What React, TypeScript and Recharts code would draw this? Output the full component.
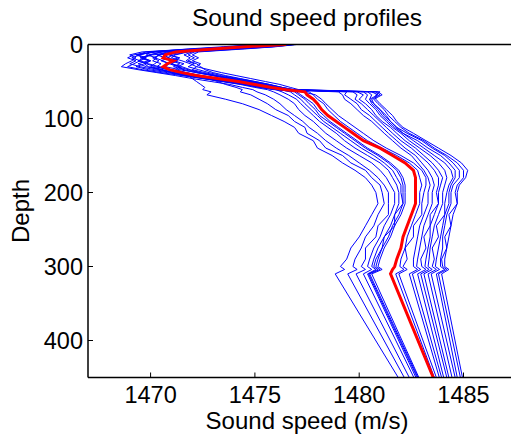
import { Line, LineChart, XAxis, YAxis } from "recharts";

const FONT = '"Liberation Sans", Arial, Helvetica, sans-serif';

const depths = [
  0, 3, 6, 10, 14, 18, 22, 26, 30, 34, 38, 42, 46, 50, 54, 58, 61, 64, 68, 74, 80, 88, 96, 104, 112, 120, 130,
  140, 150, 160, 170, 180, 190, 200, 215, 230, 245, 260, 275, 290, 300, 304, 310, 450,
];

const speedTicks = [1470, 1475, 1480, 1485];
const depthTicks = [0, 100, 200, 300, 400];

// mean profile (red)
const meanSpeed = [
  1476.5, 1474.5, 1473.0, 1471.2, 1470.7, 1470.6, 1471.1, 1470.8, 1470.6, 1470.9, 1471.5, 1472.2, 1473.2, 1474.2,
  1475.0, 1475.8, 1476.5, 1477.4, 1477.5, 1477.8, 1478.0, 1478.2, 1478.5, 1478.9, 1479.3, 1479.7, 1480.2, 1481.0,
  1481.6, 1482.2, 1482.6, 1482.7, 1482.7, 1482.7, 1482.7, 1482.5, 1482.3, 1482.1, 1482.0, 1481.8, 1481.7, 1481.6,
  1481.5, 1483.55,
];

// individual casts (blue), ordered by speed at the bottom
const cast01 = [
  1475.2, 1473.8, 1472.6, 1471.0, 1470.4, 1470.2, 1470.6, 1470.9, 1471.3, 1471.6, 1471.5, 1471.8, 1472.0, 1472.2,
  1472.4, 1472.6, 1472.5, 1472.9, 1472.7, 1473.6, 1474.4, 1475.2, 1475.8, 1476.4, 1476.9, 1477.1, 1477.8, 1478.0,
  1478.7, 1479.2, 1479.8, 1480.3, 1480.6, 1480.8, 1480.9, 1480.6, 1480.3, 1480.0, 1479.6, 1479.4, 1479.1, 1479.3,
  1478.85, 1481.87,
];
const cast02 = [
  1476.0, 1474.9, 1473.2, 1470.2, 1469.4, 1469.8, 1469.5, 1469.9, 1470.4, 1471.0, 1471.7, 1472.3, 1472.8, 1473.2,
  1473.6, 1474.1, 1474.4, 1474.3, 1474.8, 1475.2, 1475.6, 1476.0, 1476.6, 1476.9, 1477.4, 1477.5, 1478.1, 1478.4,
  1479.2, 1479.6, 1480.3, 1480.6, 1481.0, 1481.1, 1481.2, 1480.9, 1480.7, 1480.3, 1480.1, 1479.8, 1479.7, 1479.9,
  1479.45, 1482.16,
];
const cast03 = [
  1475.6, 1474.0, 1472.0, 1469.6, 1469.0, 1469.3, 1469.1, 1468.8, 1468.6, 1469.4, 1470.3, 1471.2, 1472.0, 1472.9,
  1473.8, 1474.4, 1474.9, 1475.1, 1475.5, 1475.9, 1476.2, 1476.5, 1476.9, 1477.3, 1477.6, 1478.0, 1478.4, 1478.9,
  1479.5, 1480.0, 1480.5, 1480.9, 1481.2, 1481.4, 1481.4, 1481.4, 1480.9, 1480.8, 1480.3, 1480.3, 1480.1, 1480.3,
  1479.85, 1482.4,
];
const cast04 = [
  1476.8, 1475.5, 1473.6, 1471.4, 1470.1, 1469.6, 1470.0, 1469.7, 1469.9, 1470.5, 1471.0, 1471.6, 1472.5, 1473.4,
  1474.3, 1475.0, 1475.6, 1475.9, 1476.2, 1476.6, 1476.9, 1477.1, 1477.4, 1477.8, 1478.1, 1478.4, 1478.9, 1479.4,
  1480.0, 1480.6, 1481.0, 1481.3, 1481.5, 1481.7, 1481.7, 1481.5, 1481.2, 1481.0, 1480.7, 1480.5, 1480.4, 1480.6,
  1480.2, 1482.62,
];
const cast05 = [
  1475.0, 1473.5, 1471.8, 1470.0, 1469.8, 1470.3, 1470.1, 1470.5, 1470.3, 1470.8, 1471.4, 1472.0, 1472.8, 1473.7,
  1474.6, 1475.4, 1476.0, 1476.3, 1476.6, 1477.0, 1477.2, 1477.5, 1477.8, 1478.1, 1478.5, 1478.9, 1479.3, 1479.8,
  1480.4, 1481.0, 1481.4, 1481.6, 1481.8, 1481.9, 1481.9, 1481.7, 1481.5, 1481.2, 1480.9, 1480.7, 1480.6, 1480.8,
  1480.4, 1482.72,
];
const cast06 = [
  1476.3, 1475.2, 1473.0, 1470.8, 1470.3, 1470.7, 1471.2, 1471.0, 1471.4, 1471.2, 1471.7, 1472.4, 1473.0, 1473.9,
  1474.8, 1475.6, 1476.2, 1476.7, 1476.9, 1477.2, 1477.4, 1477.7, 1478.0, 1478.3, 1478.7, 1479.1, 1479.6, 1480.1,
  1480.7, 1481.2, 1481.6, 1481.8, 1482.0, 1482.0, 1482.1, 1481.7, 1481.7, 1481.2, 1481.1, 1480.8, 1480.7, 1480.9,
  1480.45, 1482.78,
];
const cast07 = [
  1475.8, 1474.4, 1472.9, 1471.2, 1470.9, 1471.4, 1471.1, 1471.6, 1471.3, 1471.8, 1472.3, 1473.0, 1473.6, 1474.4,
  1475.1, 1475.7, 1476.1, 1476.9, 1477.1, 1477.4, 1477.6, 1477.9, 1478.1, 1478.5, 1478.9, 1479.3, 1479.8, 1480.3,
  1480.9, 1481.4, 1481.8, 1482.0, 1482.1, 1482.1, 1482.1, 1481.9, 1481.6, 1481.4, 1481.1, 1480.9, 1480.8, 1481.0,
  1480.5, 1482.82,
];
const cast08 = [
  1476.6, 1475.0, 1473.4, 1471.8, 1471.2, 1471.0, 1471.5, 1471.9, 1472.2, 1472.0, 1472.6, 1473.2, 1474.0, 1474.8,
  1475.5, 1476.1, 1476.5, 1477.0, 1477.2, 1477.5, 1477.8, 1478.0, 1478.3, 1478.6, 1479.0, 1479.4, 1479.9, 1480.4,
  1481.0, 1481.5, 1481.9, 1482.1, 1482.2, 1482.2, 1482.2, 1482.0, 1481.7, 1481.5, 1481.2, 1481.0, 1480.9, 1481.1,
  1480.6, 1482.86,
];
const cast09 = [
  1476.9, 1475.8, 1474.0, 1472.0, 1471.6, 1471.9, 1471.7, 1472.1, 1471.8, 1472.3, 1472.8, 1473.4, 1474.2, 1475.0,
  1475.7, 1476.3, 1476.8, 1477.6, 1477.8, 1478.0, 1478.3, 1478.5, 1478.8, 1479.1, 1479.5, 1479.9, 1480.4, 1481.1,
  1481.8, 1482.4, 1482.8, 1482.9, 1483.0, 1482.9, 1482.9, 1482.7, 1482.5, 1482.3, 1482.2, 1482.0, 1481.95, 1482.15,
  1481.75, 1483.6,
];
const cast10 = [
  1475.4, 1474.2, 1472.4, 1470.5, 1470.0, 1469.5, 1469.9, 1469.4, 1469.8, 1470.4, 1471.2, 1472.2, 1473.1, 1474.0,
  1474.9, 1475.6, 1476.2, 1477.3, 1477.9, 1478.2, 1478.4, 1478.7, 1479.0, 1479.4, 1479.8, 1480.2, 1480.7, 1481.3,
  1482.0, 1482.6, 1483.0, 1483.2, 1483.2, 1483.1, 1483.0, 1483.0, 1482.6, 1482.6, 1482.2, 1482.3, 1482.1, 1482.3,
  1481.9, 1483.7,
];
const cast11 = [
  1476.2, 1475.1, 1473.3, 1471.0, 1470.5, 1470.1, 1470.4, 1470.2, 1470.0, 1470.6, 1471.1, 1471.9, 1472.7, 1473.6,
  1474.5, 1475.3, 1476.0, 1479.0, 1479.2, 1479.3, 1479.6, 1479.9, 1480.2, 1480.6, 1480.9, 1481.2, 1481.6, 1482.0,
  1482.5, 1482.8, 1483.1, 1483.3, 1483.4, 1483.3, 1483.3, 1483.1, 1482.9, 1482.8, 1482.7, 1482.6, 1482.6, 1482.8,
  1482.4, 1483.84,
];
const cast12 = [
  1475.9, 1474.6, 1472.7, 1470.3, 1469.2, 1468.9, 1469.3, 1469.0, 1469.5, 1470.2, 1471.0, 1471.8, 1472.6, 1473.5,
  1474.6, 1475.4, 1476.1, 1479.4, 1479.3, 1479.6, 1479.9, 1480.1, 1480.5, 1480.8, 1481.1, 1481.4, 1481.8, 1482.2,
  1482.7, 1483.0, 1483.3, 1483.5, 1483.6, 1483.5, 1483.5, 1483.3, 1483.1, 1483.0, 1482.9, 1482.8, 1482.75, 1482.95,
  1482.55, 1483.95,
];
const cast13 = [
  1476.7, 1475.4, 1473.9, 1471.7, 1471.1, 1470.8, 1471.3, 1471.0, 1471.5, 1471.9, 1472.4, 1473.1, 1473.9, 1474.7,
  1475.4, 1476.0, 1476.4, 1479.7, 1479.9, 1479.8, 1480.1, 1480.4, 1480.7, 1481.0, 1481.3, 1481.6, 1482.0, 1482.5,
  1482.9, 1483.3, 1483.6, 1483.8, 1483.8, 1483.7, 1483.8, 1483.4, 1483.4, 1483.1, 1483.2, 1482.95, 1483.0, 1483.2,
  1482.8, 1484.05,
];
const cast14 = [
  1475.3, 1474.0, 1472.2, 1469.8, 1469.3, 1469.7, 1469.4, 1469.8, 1470.2, 1470.9, 1471.6, 1472.4, 1473.3, 1474.1,
  1474.9, 1475.6, 1476.3, 1479.9, 1480.2, 1480.0, 1480.3, 1480.6, 1480.8, 1481.1, 1481.5, 1481.8, 1482.2, 1482.7,
  1483.1, 1483.5, 1483.8, 1484.0, 1483.9, 1483.8, 1483.8, 1483.6, 1483.4, 1483.4, 1483.3, 1483.2, 1483.15, 1483.35,
  1482.95, 1484.2,
];
const cast15 = [
  1476.4, 1475.3, 1473.6, 1471.3, 1470.6, 1470.9, 1470.5, 1470.9, 1470.7, 1471.4, 1472.2, 1473.0, 1473.8, 1474.6,
  1475.3, 1475.9, 1476.5, 1480.2, 1480.4, 1480.3, 1480.5, 1480.8, 1481.0, 1481.3, 1481.6, 1482.0, 1482.4, 1482.9,
  1483.4, 1483.8, 1484.1, 1484.2, 1484.1, 1484.0, 1484.0, 1483.8, 1483.6, 1483.5, 1483.4, 1483.35, 1483.3, 1483.5,
  1483.1, 1484.3,
];
const cast16 = [
  1476.0, 1474.8, 1473.0, 1470.6, 1469.9, 1469.6, 1470.0, 1469.7, 1469.3, 1469.9, 1470.8, 1471.7, 1472.6, 1473.6,
  1474.5, 1475.3, 1476.0, 1480.4, 1480.6, 1480.5, 1480.7, 1481.0, 1481.2, 1481.5, 1481.8, 1482.1, 1482.6, 1483.1,
  1483.6, 1484.1, 1484.4, 1484.5, 1484.3, 1484.2, 1484.1, 1484.1, 1483.7, 1483.8, 1483.5, 1483.6, 1483.5, 1483.7,
  1483.3, 1484.45,
];
const cast17 = [
  1476.9, 1475.9, 1474.3, 1472.1, 1471.8, 1472.1, 1471.8, 1472.2, 1472.4, 1472.6, 1473.0, 1473.6, 1474.3, 1475.0,
  1475.7, 1476.3, 1476.8, 1480.6, 1480.9, 1480.5, 1480.6, 1480.9, 1481.1, 1481.4, 1481.7, 1482.1, 1482.8, 1483.3,
  1483.9, 1484.3, 1484.6, 1484.6, 1484.4, 1484.3, 1484.3, 1484.1, 1484.0, 1483.9, 1483.8, 1483.7, 1483.65, 1483.85,
  1483.45, 1484.6,
];
const cast18 = [
  1475.6, 1474.3, 1472.5, 1470.0, 1469.5, 1469.1, 1469.5, 1469.2, 1468.9, 1469.6, 1470.5, 1471.5, 1472.5, 1473.5,
  1474.4, 1475.2, 1475.9, 1480.8, 1481.0, 1480.6, 1480.7, 1481.0, 1481.3, 1481.5, 1481.8, 1482.3, 1483.0, 1483.5,
  1484.1, 1484.5, 1484.8, 1484.8, 1484.5, 1484.4, 1484.4, 1484.2, 1484.1, 1484.0, 1484.0, 1483.9, 1483.9, 1484.1,
  1483.7, 1484.7,
];
const cast19 = [
  1476.5, 1475.5, 1473.8, 1471.5, 1470.9, 1471.3, 1471.0, 1471.4, 1471.1, 1471.6, 1472.2, 1473.0, 1473.9, 1474.8,
  1475.6, 1476.3, 1476.9, 1480.9, 1481.1, 1480.7, 1480.9, 1481.2, 1481.4, 1481.7, 1482.0, 1482.4, 1483.1, 1483.6,
  1484.2, 1484.7, 1485.0, 1485.0, 1484.7, 1484.6, 1484.7, 1484.3, 1484.4, 1484.1, 1484.2, 1483.95, 1484.0, 1484.2,
  1483.8, 1484.85,
];
const cast20 = [
  1477.0, 1476.0, 1474.5, 1472.3, 1472.0, 1472.3, 1472.0, 1472.4, 1472.2, 1472.8, 1473.4, 1474.1, 1474.8, 1475.5,
  1476.2, 1476.7, 1477.1, 1481.0, 1480.8, 1480.8, 1481.0, 1481.3, 1481.6, 1481.8, 1482.1, 1482.6, 1483.2, 1483.8,
  1484.4, 1484.9, 1485.2, 1485.1, 1484.8, 1484.7, 1484.7, 1484.5, 1484.4, 1484.3, 1484.2, 1484.1, 1484.1, 1484.3,
  1483.95, 1484.95,
];

const casts = [
  cast01, cast02, cast03, cast04, cast05, cast06, cast07, cast08, cast09, cast10,
  cast11, cast12, cast13, cast14, cast15, cast16, cast17, cast18, cast19, cast20,
];

const rows = depths.map((depth, i) => {
  const row: Record<string, number> = { depth, mean: meanSpeed[i] };
  casts.forEach((cast, k) => {
    row[`c${k}`] = cast[i];
  });
  return row;
});

// the axes box runs off the right edge of the figure, so the visible range stops short of 1488
const speedDomain = [1467, 1487.66];

function DepthLabel() {
  return (
    <text
      x={21}
      y={203}
      transform="rotate(-90 21 203)"
      textAnchor="middle"
      fontSize={24}
      fontFamily={FONT}
      fill="#000"
    >
      Depth
    </text>
  );
}

function SpeedLabel() {
  return (
    <text x={299} y={421} textAnchor="middle" fontSize={24} fontFamily={FONT} fill="#000">
      Sound speed (m/s)
    </text>
  );
}

const tickStyle = { fill: "#000", fontSize: 23.5, fontFamily: FONT };
const axisLine = { stroke: "#000", strokeWidth: 1.5 };
const tickLine = { stroke: "#000", strokeWidth: 1 };

export default function App() {
  return (
    <div style={{ position: "relative", width: 511, height: 427, background: "#fff" }}>
      <div
        style={{
          position: "absolute",
          left: 0,
          top: -2.5,
          width: 598,
          textAlign: "center",
          fontFamily: FONT,
          fontSize: 24.5,
          lineHeight: "24px",
          color: "#000",
          whiteSpace: "nowrap",
        }}
      >
        Sound speed profiles
      </div>
      <LineChart
        width={511}
        height={427}
        data={rows}
        layout="vertical"
        margin={{ top: 35.5, right: 0, bottom: 7.5, left: 20 }}
      >
        <XAxis
          type="number"
          dataKey="mean"
          domain={speedDomain}
          ticks={speedTicks}
          allowDataOverflow
          height={50}
          tickSize={-5}
          tickMargin={13.5}
          tick={tickStyle}
          axisLine={axisLine}
          tickLine={tickLine}
          label={<SpeedLabel />}
        />
        <XAxis
          xAxisId="top"
          orientation="top"
          type="number"
          dataKey="mean"
          domain={speedDomain}
          ticks={speedTicks}
          allowDataOverflow
          height={1}
          tickSize={-5}
          tick={false}
          axisLine={axisLine}
          tickLine={tickLine}
        />
        <YAxis
          type="number"
          dataKey="depth"
          domain={[0, 450]}
          ticks={depthTicks}
          allowDataOverflow
          width={60}
          tickSize={-5}
          tickMargin={10}
          tick={tickStyle}
          axisLine={axisLine}
          tickLine={tickLine}
          label={<DepthLabel />}
        />
        {casts.map((_, k) => (
          <Line
            key={k}
            type="linear"
            dataKey={`c${k}`}
            stroke="#0000ff"
            strokeWidth={1}
            dot={false}
            isAnimationActive={false}
          />
        ))}
        <Line
          type="linear"
          dataKey="mean"
          stroke="#ff0000"
          strokeWidth={3}
          dot={false}
          isAnimationActive={false}
        />
        <Line
          xAxisId="top"
          type="linear"
          dataKey="mean"
          stroke="none"
          dot={false}
          activeDot={false}
          legendType="none"
          isAnimationActive={false}
        />
      </LineChart>
    </div>
  );
}
